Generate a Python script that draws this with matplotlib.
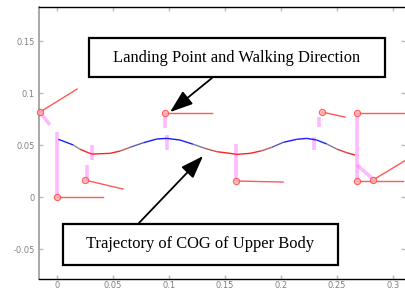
import matplotlib
matplotlib.use("Agg")
import matplotlib.pyplot as plt
import numpy as np
from matplotlib.collections import LineCollection
from matplotlib.colors import LinearSegmentedColormap
from matplotlib.patches import Rectangle

# ---- data ----
cog_x = [0.0012, 0.0146, 0.0205, 0.031, 0.0473, 0.0563, 0.0652, 0.0771, 0.0891, 0.098,
         0.1098, 0.1217, 0.1321, 0.1426, 0.1545, 0.1604, 0.1723, 0.1828, 0.1917, 0.2021,
         0.214, 0.223, 0.2319, 0.2408, 0.2497, 0.2587, 0.2661]
cog_y = [0.0555, 0.0500, 0.0459, 0.0413, 0.0420, 0.0442, 0.0478, 0.0522, 0.0558, 0.0564,
         0.0548, 0.0507, 0.0468, 0.0436, 0.0420, 0.0410, 0.0420, 0.0445, 0.0478, 0.0526,
         0.0555, 0.0564, 0.0548, 0.0510, 0.0462, 0.0426, 0.0404]

# landing point -> walking direction (red lines)
step_x0 = [-0.0152, 0.0, 0.025, 0.0964, 0.1598, 0.2366, 0.2679, 0.2679, 0.2821]
step_y0 = [0.0817, 0.0, 0.0163, 0.0808, 0.0154, 0.0817, 0.0808, 0.0154, 0.0163]
step_x1 = [0.0179, 0.0411, 0.0589, 0.1384, 0.2018, 0.2571, 0.3116, 0.309, 0.3116]
step_y1 = [0.1038, 0.0, 0.0077, 0.0808, 0.0144, 0.0769, 0.0808, 0.0154, 0.0356]

# swing / support links (magenta lines)
link_x0 = [-0.0152, 0.0, 0.031, 0.027, 0.0964, 0.098, 0.160, 0.234, 0.229, 0.2679, 0.2679]
link_y0 = [0.0817, 0.0625, 0.050, 0.031, 0.0808, 0.060, 0.051, 0.077, 0.058, 0.0808, 0.0308]
link_x1 = [-0.0063, 0.0, 0.031, 0.027, 0.0964, 0.098, 0.160, 0.234, 0.229, 0.2679, 0.2821]
link_y1 = [0.0692, 0.0, 0.036, 0.016, 0.066, 0.045, 0.0154, 0.067, 0.045, 0.0154, 0.0173]

# landing points (circle markers)
land_x = [-0.0152, 0.0, 0.025, 0.0964, 0.1598, 0.2366, 0.2679, 0.2679, 0.2821]
land_y = [0.0817, 0.0, 0.0163, 0.0808, 0.0154, 0.0817, 0.0808, 0.0154, 0.0163]

xticks = [0, 0.05, 0.1, 0.15, 0.2, 0.25, 0.3]
xtick_labels = ["0", "0.05", "0.1", "0.15", "0.2", "0.25", "0.3"]
yticks = [-0.05, 0, 0.05, 0.1, 0.15]
ytick_labels = ["-0.05", "0", "0.05", "0.1", "0.15"]

label_landing = "Landing Point and Walking Direction"
label_cog = "Trajectory of COG of Upper Body"

# ---- figure ----
W, H = 406, 291
fig = plt.figure(figsize=(W / 100, H / 100), dpi=100)
ax = fig.add_axes([39 / W, 1 - 279 / H, (405 - 39) / W, (279 - 7) / H])
ax.set_xlim(-0.0161, 0.3107)
ax.set_ylim(-0.0788, 0.1827)

# magenta links
for x0, y0, x1, y1 in zip(link_x0, link_y0, link_x1, link_y1):
    ax.plot([x0, x1], [y0, y1], color="#ff66ff", lw=2.6, alpha=0.45,
            solid_capstyle="butt", zorder=2)

# red step lines
for x0, y0, x1, y1 in zip(step_x0, step_y0, step_x1, step_y1):
    ax.plot([x0, x1], [y0, y1], color="#ff2020", lw=1.0, alpha=0.75, zorder=3)

# COG trajectory colored by height
cmap = LinearSegmentedColormap.from_list("rgb", ["#ff2020", "#888888", "#1a1aff"])
pts = np.column_stack([cog_x, cog_y]).reshape(-1, 1, 2)
segs = np.concatenate([pts[:-1], pts[1:]], axis=1)
mid = 0.5 * (np.array(cog_y[:-1]) + np.array(cog_y[1:]))
lc = LineCollection(segs, cmap=cmap, linewidths=1.0, zorder=4)
lc.set_array(mid)
lc.set_clim(0.043, 0.053)
ax.add_collection(lc)

# landing markers
ax.plot(land_x, land_y, "o", ms=4.5, mfc="#ffb0b0", mec="#ff4040", mew=0.8,
        alpha=0.8, zorder=5, clip_on=False)

# axes styling
ax.set_xticks(xticks)
ax.set_xticklabels(xtick_labels)
ax.set_yticks(yticks)
ax.set_yticklabels(ytick_labels)
ax.tick_params(direction="in", length=3, width=1.0, color="#bbbbbb",
               labelsize=6, labelcolor="#808080", top=True, right=True)
ax.tick_params(axis="x", pad=1.2)
ax.tick_params(axis="y", pad=3)
ax.spines["left"].set_color("#999999")
ax.spines["left"].set_linewidth(1.2)
for s in ["bottom", "top"]:
    ax.spines[s].set_color("black")
    ax.spines[s].set_linewidth(1.0)
ax.spines["right"].set_visible(False)

# annotation boxes
def box(x0, y0, x1, y1, text):
    r = Rectangle((x0 / W, 1 - y1 / H), (x1 - x0) / W, (y1 - y0) / H,
                  transform=fig.transFigure, fill=True, fc="white", ec="black",
                  lw=1.6, zorder=10)
    fig.add_artist(r)
    fig.text((x0 + x1) / 2 / W, 1 - (y0 + y1) / 2 / H, text, ha="center", va="center",
             family="Liberation Serif", fontsize=11.9, zorder=11)

box(89, 38, 385, 77, label_landing)
box(63, 224, 338, 265, label_cog)

arrow = dict(arrowstyle="-|>,head_length=1.4,head_width=0.5", mutation_scale=10,
             color="black", lw=1.3, shrinkA=0, shrinkB=0)
ax.annotate("", xy=(0.1009, 0.0817), xytext=(212 / W, 1 - 78 / H),
            textcoords="figure fraction", arrowprops=arrow, zorder=9)
ax.annotate("", xy=(0.1304, 0.0394), xytext=(138 / W, 1 - 224 / H),
            textcoords="figure fraction", arrowprops=arrow, zorder=9)

fig.savefig("out.png", dpi=100)
